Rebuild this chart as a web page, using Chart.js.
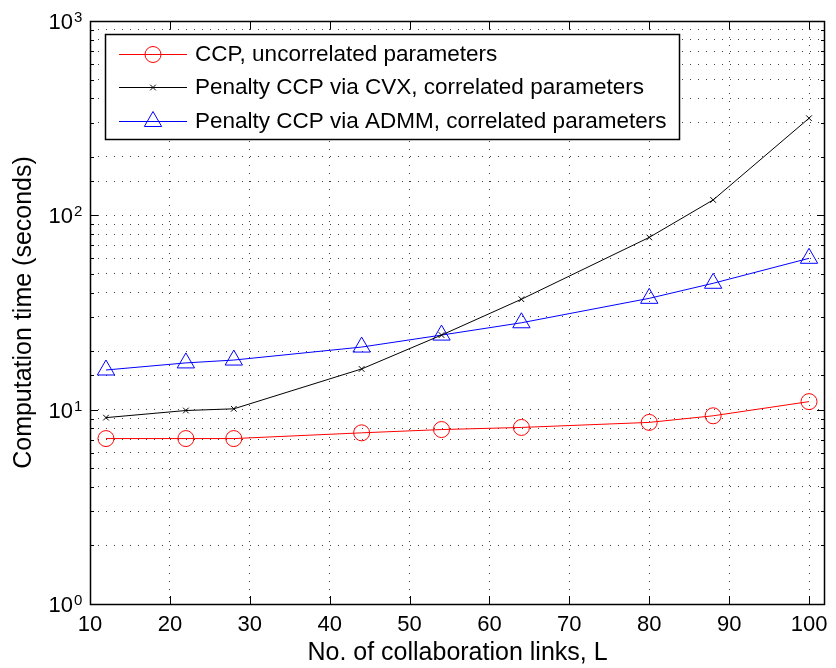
<!DOCTYPE html>
<html>
<head>
<meta charset="utf-8">
<script src="https://cdn.jsdelivr.net/npm/chart.js@4"></script>
<style>
  html, body { margin: 0; padding: 0; background: #fff; }
  #wrap { width: 836px; height: 668px; }
</style>
</head>
<body>
<div id="wrap"><canvas id="timeChart"></canvas></div>
<script>
const xValues = [12, 22, 28, 44, 54, 64, 80, 88, 100];
const ccpUncorrelated = [7.1, 7.1, 7.1, 7.6, 7.9, 8.1, 8.6, 9.3, 11.0];
const penaltyCvx = [9.1, 9.9, 10.1, 16.2, 24.2, 37, 77, 120, 316];
const penaltyAdmm = [16.0, 17.4, 18.0, 21.0, 24.2, 28.0, 37.4, 44.7, 60.1];
const seriesNames = [
    'CCP, uncorrelated parameters',
    'Penalty CCP via CVX, correlated parameters',
    'Penalty CCP via ADMM, correlated parameters'
];
const yTickValues = [1, 10, 100, 1000];
const yTickExponents = ['0', '1', '2', '3'];

const FONT = '"Liberation Sans", Arial, Helvetica, sans-serif';

const toPoints = (arr) => xValues.map((x, i) => ({ x: x, y: arr[i] }));

// box, inward ticks, y labels with exponent, legend
const matlabLook = {
    id: 'matlabLook',
    afterDraw(chart) {
        const ctx = chart.ctx;
        const area = chart.chartArea;
        const xs = chart.scales.x;
        const ys = chart.scales.y;
        ctx.save();
        ctx.strokeStyle = '#000';
        ctx.lineWidth = 1;

        // ticks
        ctx.beginPath();
        xs.ticks.forEach(t => {
            const px = Math.round(xs.getPixelForValue(t.value)) + 0.5;
            ctx.moveTo(px, area.bottom); ctx.lineTo(px, area.bottom - 8);
            ctx.moveTo(px, area.top); ctx.lineTo(px, area.top + 8);
        });
        ys.ticks.forEach(t => {
            const py = Math.round(ys.getPixelForValue(t.value)) + 0.5;
            const e = Math.log10(t.value);
            const len = Math.abs(e - Math.round(e)) < 1e-9 ? 8 : 4;
            ctx.moveTo(area.left, py); ctx.lineTo(area.left + len, py);
            ctx.moveTo(area.right, py); ctx.lineTo(area.right - len, py);
        });
        ctx.stroke();

        // box
        ctx.lineWidth = 1.5;
        ctx.strokeRect(Math.round(area.left) + 0.5, Math.round(area.top) + 0.5,
            Math.round(area.right - area.left) - 1, Math.round(area.bottom - area.top));

        // y tick labels
        ctx.fillStyle = '#000';
        yTickValues.forEach((v, i) => {
            const py = ys.getPixelForValue(v);
            ctx.font = '22px ' + FONT;
            ctx.textAlign = 'right';
            ctx.textBaseline = 'middle';
            ctx.fillText('10', 73, py + 2);
            ctx.font = '15px ' + FONT;
            ctx.textAlign = 'left';
            ctx.textBaseline = 'alphabetic';
            ctx.fillText(yTickExponents[i], 74, py + 1);
        });

        // legend
        const box = { left: 105, top: 34, right: 679, bottom: 139 };
        ctx.fillStyle = '#fff';
        ctx.fillRect(box.left, box.top, box.right - box.left, box.bottom - box.top);
        ctx.lineWidth = 1.5;
        ctx.strokeStyle = '#000';
        ctx.strokeRect(box.left + 0.5, box.top + 0.5, box.right - box.left, box.bottom - box.top);
        const rows = [54, 87, 121];
        chart.data.datasets.forEach((ds, i) => {
            const y = rows[i];
            ctx.strokeStyle = ds.borderColor;
            ctx.lineWidth = 1;
            ctx.beginPath();
            ctx.moveTo(119, y + 0.5); ctx.lineTo(187, y + 0.5);
            ctx.stroke();
            ctx.fillStyle = 'rgba(0,0,0,0)';
            Chart.helpers.drawPoint(ctx, {
                pointStyle: ds.pointStyle,
                radius: ds.pointRadius,
                rotation: 0,
                borderWidth: ds.pointBorderWidth
            }, 153, y + 0.5);
            ctx.fillStyle = '#000';
            ctx.font = '22.5px ' + FONT;
            ctx.textAlign = 'left';
            ctx.textBaseline = 'middle';
            ctx.fillText(ds.label, 195, y + 1);
        });
        ctx.restore();
    }
};

new Chart(document.getElementById('timeChart'), {
    type: 'line',
    data: {
        datasets: [
            {
                label: seriesNames[0],
                data: toPoints(ccpUncorrelated),
                borderColor: '#ff0000',
                backgroundColor: 'rgba(0,0,0,0)',
                pointBorderColor: '#ff0000',
                pointBackgroundColor: 'rgba(0,0,0,0)',
                pointStyle: 'circle',
                pointRadius: 8,
                pointBorderWidth: 1,
                borderWidth: 1
            },
            {
                label: seriesNames[1],
                data: toPoints(penaltyCvx),
                borderColor: '#000000',
                backgroundColor: 'rgba(0,0,0,0)',
                pointBorderColor: '#000000',
                pointBackgroundColor: 'rgba(0,0,0,0)',
                pointStyle: 'crossRot',
                pointRadius: 4,
                pointBorderWidth: 1,
                borderWidth: 1
            },
            {
                label: seriesNames[2],
                data: toPoints(penaltyAdmm),
                borderColor: '#0000ff',
                backgroundColor: 'rgba(0,0,0,0)',
                pointBorderColor: '#0000ff',
                pointBackgroundColor: 'rgba(0,0,0,0)',
                pointStyle: 'triangle',
                pointRadius: 10,
                pointBorderWidth: 1,
                borderWidth: 1
            }
        ]
    },
    options: {
        responsive: true,
        maintainAspectRatio: false,
        animation: false,
        layout: { padding: { top: 21, right: 5, left: 0, bottom: 0 } },
        plugins: {
            legend: { display: false },
            tooltip: { enabled: false }
        },
        scales: {
            x: {
                type: 'linear',
                min: 10,
                max: 102,
                grid: {
                    color: 'rgba(0,0,0,0.75)',
                    lineWidth: 1,
                    drawTicks: true,
                    tickLength: 8,
                    tickColor: 'rgba(0,0,0,0)'
                },
                border: { display: false, dash: [1, 7] },
                ticks: {
                    stepSize: 10,
                    includeBounds: false,
                    autoSkip: false,
                    maxRotation: 0,
                    padding: 0,
                    color: '#000',
                    font: { family: FONT, size: 22 }
                },
                title: {
                    display: true,
                    text: 'No. of collaboration links, L',
                    color: '#000',
                    font: { family: FONT, size: 25 },
                    padding: { top: 0, bottom: 0 }
                },
                afterFit: (scale) => {
                    scale.height = 64;
                    scale.paddingLeft = 0;
                    scale.paddingRight = 0;
                }
            },
            y: {
                type: 'logarithmic',
                min: 1,
                max: 1000,
                grid: {
                    color: 'rgba(0,0,0,0.75)',
                    lineWidth: 1,
                    drawTicks: false
                },
                border: { display: false, dash: [1, 7] },
                ticks: { display: false, autoSkip: false },
                title: {
                    display: true,
                    text: 'Computation time (seconds)',
                    color: '#000',
                    font: { family: FONT, size: 25 },
                    padding: { top: 9, bottom: 0 }
                },
                afterFit: (scale) => {
                    scale.width = 90;
                    scale.paddingTop = 0;
                    scale.paddingBottom = 0;
                }
            }
        }
    },
    plugins: [matlabLook]
});
</script>
</body>
</html>
